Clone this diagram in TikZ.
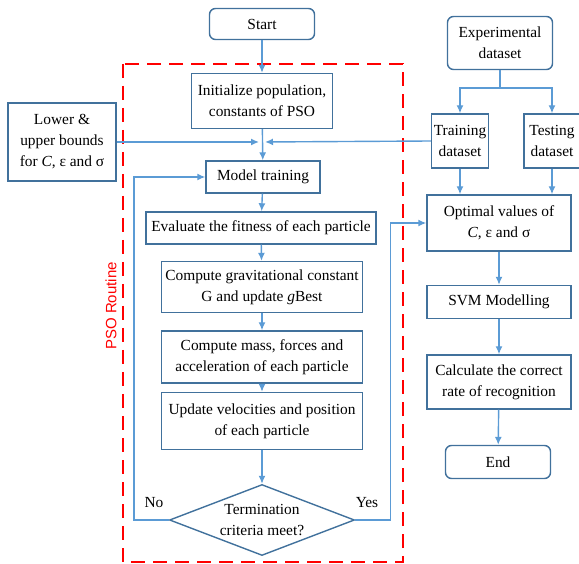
\documentclass[tikz,border=0pt]{standalone}
\usepackage{fontspec}
\setmainfont{Liberation Serif}
\newfontfamily\routinefont{Liberation Sans}
\usepackage{xcolor}
\usetikzlibrary{shapes.geometric}
\usetikzlibrary{arrows.meta}
\definecolor{boxrand}{HTML}{41719C}
\definecolor{pfeilblau}{HTML}{5B9BD5}
\definecolor{psorot}{HTML}{FF0000}
\tikzset{
  kasten/.style={draw=boxrand, line width=1.4pt, fill=white, align=center,
    inner sep=1pt, minimum width=#1}, % Prozessschritte
  rkasten/.style={kasten=#1, rounded corners=6pt}, % Start / Ende
  raute/.style={draw=boxrand, line width=1.4pt, diamond, aspect=2.6,
    inner sep=0pt, align=center, minimum width=185pt, minimum height=71pt}, % Abfrage
  pfeil/.style={draw=pfeilblau, line width=1.4pt, ->}, % Verbindungen
  routine/.style={draw=psorot, line width=2.6pt, dash pattern=on 14pt off 8pt}
}

\begin{document}
\begin{tikzpicture}[x=1pt, y=-1pt,
font=\fontsize{15.4}{21}\selectfont,
>={Latex[length=8pt,width=7pt]} % Pfeilspitzen
]
\useasboundingbox (0,0) rectangle (579,564);

%PSO-Rahmen
\draw[routine] (123,64) rectangle (403,562);
\node[rotate=90, text=psorot, font=\routinefont\fontsize{15}{18}\selectfont]
  (psolabel) at (111,306) {PSO Routine};

%Kaesten links
\node[rkasten=105pt, minimum height=31pt] (start) at (262,24) {Start};
\node[kasten=141pt, minimum height=55pt] (init) at (262,101)
  {Initialize population,\\ constants of PSO};
\node[kasten=108pt, minimum height=78pt] (bounds) at (62,142)
  {Lower \&\\ upper bounds\\ for {\itshape C}, ε and σ};
\node[kasten=114pt, minimum height=32pt] (train) at (263,177) {Model training};
\node[kasten=230pt, minimum height=32pt] (eval) at (261,228)
  {Evaluate the fitness of each particle};
\node[kasten=201pt, minimum height=51pt] (grav) at (262,287)
  {Compute gravitational constant\\ G and update {\itshape g}Best};
\node[kasten=201pt, minimum height=52pt] (mass) at (262,357)
  {Compute mass, forces and\\ acceleration of each particle};
\node[kasten=201pt, minimum height=57pt] (upd) at (262,421)
  {Update velocities and position\\ of each particle};
\node[raute] (term) at (262,520) {Termination\\ criteria meet?};

%Kaesten rechts
\node[rkasten=105pt, minimum height=53pt] (exper) at (500,43)
  {Experimental\\ dataset};
\node[kasten=57pt, minimum height=54pt] (trainset) at (460,141)
  {Training\\ dataset};
\node[kasten=56pt, minimum height=54pt] (testset) at (552,141)
  {Testing\\ dataset};
\node[kasten=144pt, minimum height=56pt] (optim) at (499,223)
  {Optimal values of\\ {\itshape C}, ε and σ};
\node[kasten=144pt, minimum height=33pt] (svm) at (499,302) {SVM Modelling};
\node[kasten=144pt, minimum height=54pt] (calc) at (499,382)
  {Calculate the correct\\ rate of recognition};
\node[rkasten=105pt, minimum height=33pt] (finish) at (498,462) {End};

%Verbindungen links
\coordinate (merge) at (262,142);
\draw[pfeil] (start) -- (init);
\draw[pfeil] (init) -- (train);
\draw[pfeil, shorten >=3pt] (bounds.east) -- (merge);
\draw[pfeil, shorten >=3pt] (trainset.west) -- (merge);
\draw[pfeil] (train) -- (eval);
\draw[pfeil] (eval) -- (grav);
\draw[pfeil] (grav) -- (mass);
\draw[pfeil] (mass) -- (upd);
\draw[pfeil] (upd) -- (term);
\draw[pfeil] (term.west) -- ++(-35,0) |- (train.west);
\draw[pfeil] (term.east) -- ++(35,0) |- (optim.west);
\node (no) at (154,503) {No};
\node (yes) at (367,503) {Yes};

%Verbindungen rechts
\draw[pfeil] (exper.south) -- ++(0,18) -| (trainset.north);
\draw[pfeil] (exper.south) -- ++(0,18) -| (testset.north);
\draw[pfeil] (trainset.south) -- (trainset.south |- optim.north);
\draw[pfeil] (testset.south) -- (testset.south |- optim.north);
\draw[pfeil] (optim) -- (svm);
\draw[pfeil] (svm) -- (calc);
\draw[pfeil] (calc) -- (finish);

\end{tikzpicture}
\end{document}
